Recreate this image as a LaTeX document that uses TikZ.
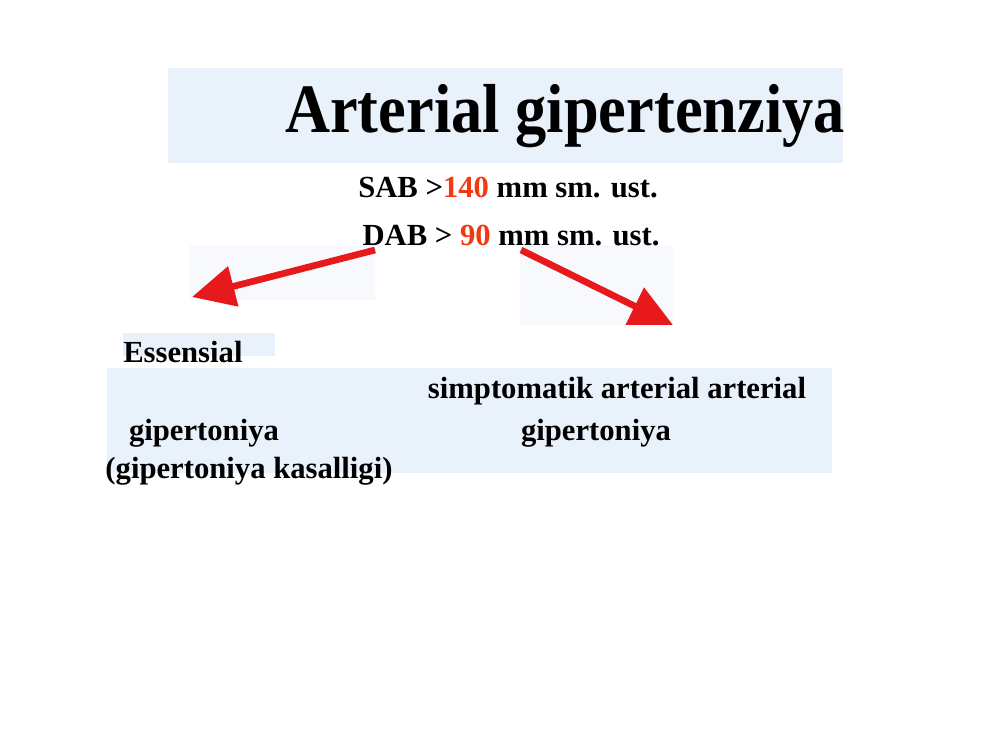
\documentclass[tikz,border=0pt]{standalone}
\usepackage{fontspec}
\setmainfont{Liberation Serif}
\newfontfamily\titlefont{Liberation Serif}[FakeStretch=0.9]
\usepackage{tikz}
\usetikzlibrary{arrows.meta, positioning, calc}
\definecolor{panelblue}{HTML}{E9F2FB}
\definecolor{panelfaint}{HTML}{F7F9FC}
\definecolor{arrowred}{HTML}{E8191C}
\definecolor{numred}{HTML}{F23A12}

\begin{document}
\begin{tikzpicture}[x=0.75pt, y=-0.75pt,
      % pixel grid of the slide, y going down
      panel/.style={fill=panelblue, draw=none},
      faintpanel/.style={fill=panelfaint, draw=none},
      redarrow/.style={line width=5pt, arrowred, -{Triangle[length=32pt, width=30pt]}},
      titletext/.style={font=\titlefont\bfseries\fontsize{52pt}{56pt}\selectfont, inner sep=0pt, anchor=base},
      bodytext/.style={font=\bfseries\fontsize{23pt}{28pt}\selectfont, inner sep=0pt, anchor=base} ]
    % Frame
    \fill[white] (0,0) rectangle (1000,750);
    \useasboundingbox (0,0) rectangle (1000,750);

    % Background panels
    \fill[panel] (168,68) rectangle (843,163);
    \fill[faintpanel] (190,245) rectangle (375,300);
    \fill[faintpanel] (520,245) rectangle (673,325);
    \fill[panel] (123,333) rectangle (275,356);
    \fill[panel] (107,368) rectangle (832,473);

    % Title
    \node[titletext] (title) at (565,132) {Arterial gipertenziya};

    % Pressure limits
    \node[bodytext] (sab) at (508,197) {SAB >\textcolor{numred}{140} mm sm. ust.};
    \node[bodytext] (dab) at (511,245) {DAB > \textcolor{numred}{90} mm sm. ust.};

    % Arrows
    \coordinate (lstart) at (375,250); \coordinate (lend) at (192,297);
    \coordinate (rstart) at (521,250); \coordinate (rend) at (673,325);
    \draw[redarrow] (lstart) -- (lend);
    \draw[redarrow] (rstart) -- (rend);

    % Types
    \node[bodytext, anchor=base west] (ess) at (123,362) {Essensial};
    \node[bodytext] (simp) at (617,398) {simptomatik arterial arterial};
    \node[bodytext] (gipl) at (204,440) {gipertoniya};
    \node[bodytext] (gipr) at (596,440) {gipertoniya};
    \node[bodytext] (kas) at (249,478) {(gipertoniya kasalligi)};

    \end{tikzpicture}
\end{document}
